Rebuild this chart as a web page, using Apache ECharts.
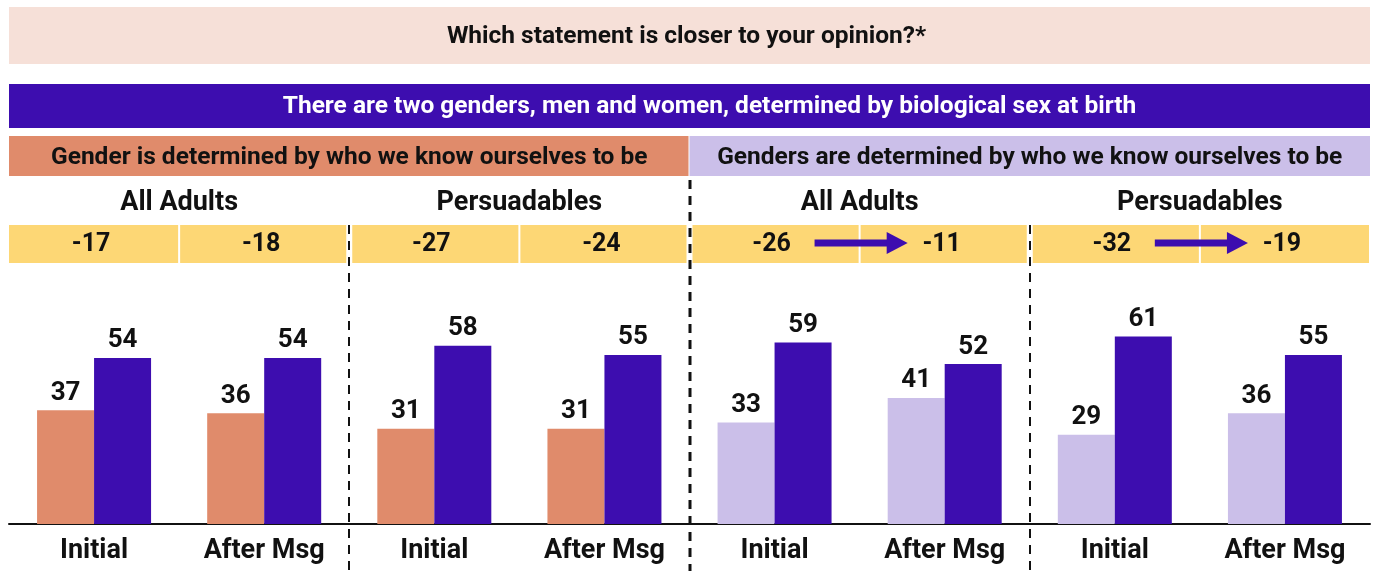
<!DOCTYPE html>
<html><head><meta charset="utf-8">
<script src="https://cdn.jsdelivr.net/npm/echarts@6/dist/echarts.min.js"></script>
<style>html,body{margin:0;padding:0;background:#fff}#c{width:1373px;height:571px}</style>
</head><body><div id="c"></div>
<script>
const titleText = 'Which statement is closer to your opinion?*';
const bannerText = 'There are two genders, men and women, determined by biological sex at birth';
const leftStatement = 'Gender is determined by who we know ourselves to be';
const rightStatement = 'Genders are determined by who we know ourselves to be';
const categories = ['Initial','After Msg','Initial','After Msg','Initial','After Msg','Initial','After Msg'];
const groupLabels = ['All Adults','Persuadables','All Adults','Persuadables'];
const selfIdValues = [37,36,31,31,33,41,29,36];
const biologicalValues = [54,54,58,55,59,52,61,55];
const netLabels = ['-17','-18','-27','-24','-26','-11','-32','-19'];
const arrowPairs = [[4,5],[6,7]];

const FONT = 'Roboto';
const ORANGE = '#e08b6b', LAV = '#cbbfe9', PURPLE = '#3d0daf', YELLOW = '#fdd775';

const chart = echarts.init(document.getElementById('c'), null, {renderer:'canvas'});
const lblStyle = {show:true, position:'top', distance:4, fontFamily:FONT, fontWeight:'bold', fontSize:26, color:'#111'};
chart.setOption({
  animation:false,
  grid:{left:9, right:3, top:278, bottom:47, containLabel:false},
  xAxis:{type:'category', data:categories,
    axisLine:{lineStyle:{color:'#111', width:2}}, axisTick:{show:false},
    axisLabel:{fontFamily:FONT, fontWeight:'bold', fontSize:27, color:'#111', margin:14}},
  yAxis:{type:'value', min:0, max:80, show:false, splitLine:{show:false}},
  series:[
    {type:'bar', name:'Self-identity', data:selfIdValues, barWidth:57, barGap:'0%',
     itemStyle:{color:p => p.dataIndex < 4 ? ORANGE : LAV}, label:lblStyle},
    {type:'bar', name:'Biological sex', data:biologicalValues, barWidth:57,
     itemStyle:{color:PURPLE}, label:lblStyle}
  ]
});

function draw(){
  const cx = categories.map((c,i)=>chart.convertToPixel({xAxisIndex:0}, i));
  const step = cx[1]-cx[0];
  const bounds = [cx[0]-step/2].concat(cx.map(x=>x+step/2));
  const L = 9, R = 1370;
  const g = [];
  const T = (x,y,text,size,fill) => ({type:'text', x:x, y:y, style:{text:text, fontFamily:FONT, fontWeight:'bold', fontSize:size, fill:fill||'#111', align:'center', verticalAlign:'middle'}});
  g.push({type:'rect', shape:{x:L,y:7,width:R-L,height:57}, style:{fill:'#f6e0d8'}});
  g.push(T((L+R)/2 - 3, 37, titleText, 24.5));
  g.push({type:'rect', shape:{x:L,y:84,width:R-L,height:44}, style:{fill:PURPLE}});
  g.push(T((L+R)/2 + 20, 107, bannerText, 24.5, '#fff'));
  const mid = bounds[4];
  g.push({type:'rect', shape:{x:L,y:136,width:mid-1-L,height:40}, style:{fill:ORANGE}});
  g.push({type:'rect', shape:{x:mid,y:136,width:R-mid,height:40}, style:{fill:LAV}});
  g.push(T((L+mid)/2, 158, leftStatement, 24.5));
  g.push(T((mid+R)/2, 158, rightStatement, 24.5));
  groupLabels.forEach((t,k)=>{
    g.push(T((cx[2*k]+cx[2*k+1])/2, 203, t, 27));
  });
  for(let i=0;i<categories.length;i++){
    let x0 = Math.max(L, bounds[i]) + (i%2===0 && i>0 ? 3 : 0);
    let x1 = Math.min(R, bounds[i+1]) - (i%2===1 && i<categories.length-1 ? 3 : 1);
    if(i%2===1) x0 += 1;
    g.push({type:'rect', shape:{x:x0,y:225,width:x1-x0,height:38}, style:{fill:YELLOW}});
    g.push(T(cx[i]-3, 245, netLabels[i], 25));
  }
  arrowPairs.forEach(([a,b])=>{
    const x1 = cx[a]+40, x2 = cx[b]-37;
    g.push({type:'line', shape:{x1:x1,y1:243,x2:x2-18,y2:243}, style:{stroke:PURPLE, lineWidth:7}});
    g.push({type:'polygon', shape:{points:[[x2-21,232],[x2,243],[x2-21,254]]}, style:{fill:PURPLE}});
  });
  [2,4,6].forEach(k=>{
    const x = Math.round(bounds[k]);
    g.push({type:'line', shape:{x1:x,y1:k===4?180:225,x2:x,y2:571}, style:{stroke:'#111', lineWidth:k===4?3:2, lineDash:[9,7]}});
  });
  chart.setOption({graphic:{elements:g}});
}
draw();
</script></body></html>
